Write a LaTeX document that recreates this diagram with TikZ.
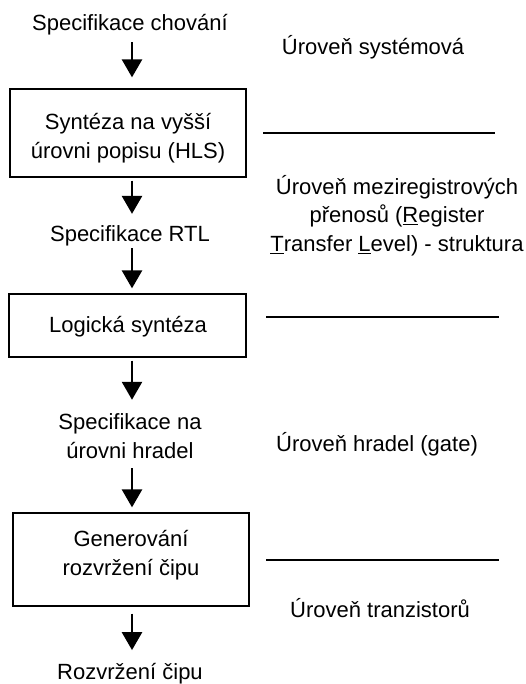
\documentclass[tikz,border=0pt]{standalone}
\usepackage{fontspec}
\setmainfont{Liberation Sans}
\usetikzlibrary{arrows.meta}
\begin{document}
\begin{tikzpicture}[x=1pt,y=-1pt,
  txt/.style={font=\fontsize{22}{28.5}\selectfont, inner sep=0pt, align=center},
  box/.style={draw, line width=1.3pt, inner sep=0pt},
  arr/.style={line width=2.7pt, -{Triangle[width=20pt,length=18pt]}},
  sep/.style={line width=1.3pt}]
\useasboundingbox (0,0) rectangle (526,684);
\coordinate (ax) at (132,0);
% left column
\node[txt, anchor=base] (s1) at (130,31) {Specifikace chování};
\node[box, minimum width=236pt, minimum height=88pt] (b1) at (128,133) {};
\node[txt] (t1) at (128,138.3) {Syntéza na vyšší\\úrovni popisu (HLS)};
\node[txt, anchor=base] (s2) at (130,242) {Specifikace RTL};
\node[box, minimum width=237pt, minimum height=63pt] (b2) at (127.5,325.5) {};
\node[txt, anchor=base] (t2) at (128,332) {Logická syntéza};
\node[txt] (s3) at (130,436.3) {Specifikace na\\úrovni hradel};
\node[box, minimum width=236pt, minimum height=93pt] (b3) at (131,559.5) {};
\node[txt] (t3) at (131,555.3) {Generování\\rozvržení čipu};
\node[txt, anchor=base] (s4) at (130,679) {Rozvržení čipu};
% arrows
\draw[arr, shorten <=6.4pt, shorten >=11pt] (s1.south -| ax) -- (b1.north -| ax);
\draw[arr, shorten <=3pt, shorten >=12pt] (b1.south -| ax) -- (s2.north -| ax);
\draw[arr, shorten <=1.4pt, shorten >=5pt] (s2.south -| ax) -- (b2.north -| ax);
\draw[arr, shorten <=3pt, shorten >=14pt] (b2.south -| ax) -- (s3.north -| ax);
\draw[arr, shorten <=9.5pt, shorten >=5pt] (s3.south -| ax) -- (b3.north -| ax);
\draw[arr, shorten <=7pt, shorten >=12.5pt] (b3.south -| ax) -- (s4.north -| ax);
% right column
\node[txt, anchor=base] (l1) at (373,55) {Úroveň systémová};
\coordinate (h1a) at (263,133);
\coordinate (h1b) at (495,133);
\draw[sep] (h1a) -- (h1b);
\node[txt] (l2) at (397,215.7) {Úroveň meziregistrových\\přenosů (\underline{R}egister\\\underline{T}ransfer \underline{L}evel) - struktura};
\coordinate (h2a) at (266,317);
\coordinate (h2b) at (499,317);
\draw[sep] (h2a) -- (h2b);
\node[txt, anchor=base] (l3) at (377,451) {Úroveň hradel (gate)};
\coordinate (h3a) at (266,560);
\coordinate (h3b) at (499,560);
\draw[sep] (h3a) -- (h3b);
\node[txt, anchor=base] (l4) at (380,617) {Úroveň tranzistorů};
\end{tikzpicture}
\end{document}
